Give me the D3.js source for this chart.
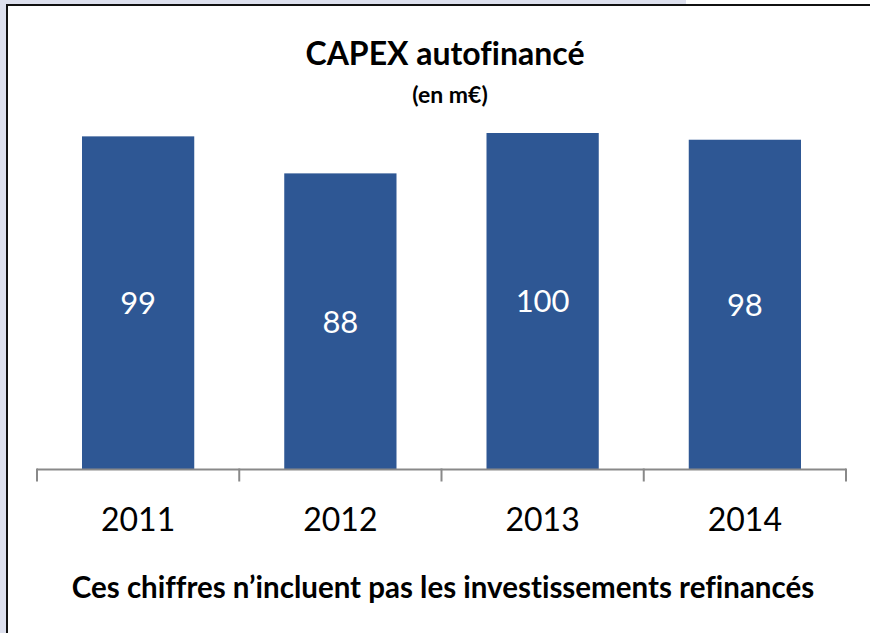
<!DOCTYPE html>
<html>
<head>
<meta charset="utf-8">
<script src="https://cdn.jsdelivr.net/npm/d3@7"></script>
<style>
  body { margin: 0; background: #fff; }
  svg { display: block; font-family: Lato, "Open Sans", sans-serif; font-variant-ligatures: none; }
</style>
</head>
<body>
<script>
// chart data
var years = ["2011", "2012", "2013", "2014"];
var capex = [99, 88, 100, 98];

var width = 870;
var height = 633;

var svg = d3.select("body").append("svg")
    .attr("width", width)
    .attr("height", height);

// slide background + frame
svg.append("rect").attr("x", 0).attr("y", 0).attr("width", width).attr("height", height).style("fill", "#fff");
svg.append("rect").attr("x", 0).attr("y", 0).attr("width", 686).attr("height", 4).style("fill", "#dde0ee");
svg.append("rect").attr("x", 0).attr("y", 0).attr("width", 6).attr("height", height).style("fill", "#dde0ee");
svg.append("line").attr("x1", 6).attr("x2", width).attr("y1", 5).attr("y2", 5)
    .style("stroke", "#111").style("stroke-width", 2);
svg.append("line").attr("x1", 7).attr("x2", 7).attr("y1", 4).attr("y2", height)
    .style("stroke", "#111").style("stroke-width", 2);

// scales
var x = d3.scaleBand()
    .domain(years)
    .range([37, 846])
    .paddingInner(0.445)
    .paddingOuter(0.2225);

var y = d3.scaleLinear()
    .domain([0, 100])
    .range([469.5, 133]);

// bars
svg.selectAll(".bar")
    .data(capex)
    .enter()
    .append("rect")
    .attr("class", "bar")
    .attr("x", function(d, i) { return x(years[i]); })
    .attr("y", function(d) { return y(d); })
    .attr("width", x.bandwidth())
    .attr("height", function(d) { return y(0) - y(d); })
    .style("fill", "#2e5794");

// value labels, centred in bar
svg.selectAll(".val")
    .data(capex)
    .enter()
    .append("text")
    .attr("class", "val")
    .attr("x", function(d, i) { return x(years[i]) + x.bandwidth() / 2; })
    .attr("y", function(d) { return (y(d) + y(0)) / 2; })
    .attr("dy", "0.36em")
    .attr("text-anchor", "middle")
    .style("fill", "#fff")
    .style("font-size", "31px")
    .text(function(d) { return d; });

// x axis: line with ticks at band edges
var axisG = svg.append("g").attr("transform", "translate(0," + 469.5 + ")");
axisG.append("line")
    .attr("x1", 37).attr("x2", 846)
    .style("stroke", "#898989").style("stroke-width", 2);

var edges = years.map(function(d) { return x(d) - x.step() * x.paddingInner() / 2; });
edges.push(x(years[years.length - 1]) + x.bandwidth() + x.step() * x.paddingInner() / 2);
axisG.selectAll(".tick")
    .data(edges)
    .enter()
    .append("line")
    .attr("x1", function(d) { return d; })
    .attr("x2", function(d) { return d; })
    .attr("y1", -1).attr("y2", 12)
    .style("stroke", "#898989").style("stroke-width", 2);

axisG.selectAll(".year")
    .data(years)
    .enter()
    .append("text")
    .attr("x", function(d) { return x(d) + x.bandwidth() / 2; })
    .attr("y", 61)
    .attr("text-anchor", "middle")
    .style("font-size", "32px")
    .style("fill", "#000")
    .text(function(d) { return d; });

// titles
svg.append("text")
    .attr("x", 445).attr("y", 65)
    .attr("text-anchor", "middle")
    .style("font-size", "32px").style("font-weight", "bold")
    .text("CAPEX autofinancé");

svg.append("text")
    .attr("x", 450).attr("y", 103)
    .attr("text-anchor", "middle")
    .style("font-size", "23px").style("font-weight", "bold")
    .text("(en m€)");

svg.append("text")
    .attr("x", 443).attr("y", 598)
    .attr("text-anchor", "middle")
    .style("font-size", "29.5px").style("font-weight", "bold")
    .text("Ces chiffres n’incluent pas les investissements refinancés");
</script>
</body>
</html>
